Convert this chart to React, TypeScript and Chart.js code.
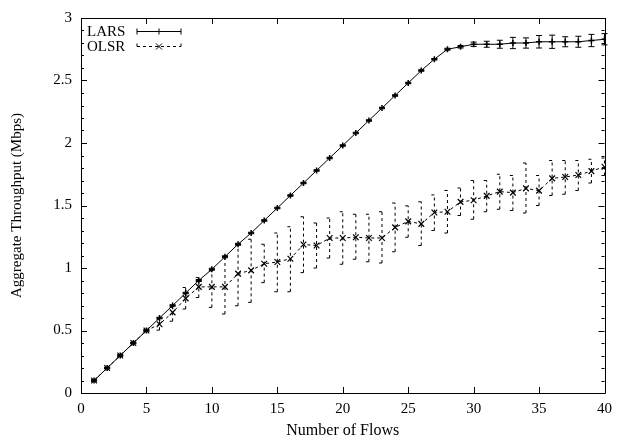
import React, { useEffect, useRef } from 'react';
import { Chart, registerables } from 'chart.js';

Chart.register(...registerables);

const flows = [1, 2, 3, 4, 5, 6, 7, 8, 9, 10, 11, 12, 13, 14, 15, 16, 17, 18, 19, 20,
  21, 22, 23, 24, 25, 26, 27, 28, 29, 30, 31, 32, 33, 34, 35, 36, 37, 38, 39, 40];

const larsMean = [0.10, 0.20, 0.30, 0.40, 0.50, 0.60, 0.70, 0.80, 0.90, 0.99,
  1.09, 1.19, 1.28, 1.38, 1.48, 1.58, 1.68, 1.78, 1.88, 1.98,
  2.08, 2.18, 2.28, 2.38, 2.48, 2.58, 2.67, 2.75, 2.77, 2.79,
  2.79, 2.79, 2.80, 2.80, 2.81, 2.81, 2.81, 2.81, 2.82, 2.83];

const larsErr = [0.006, 0.006, 0.006, 0.006, 0.006, 0.006, 0.006, 0.006, 0.008, 0.008,
  0.008, 0.008, 0.006, 0.006, 0.006, 0.006, 0.006, 0.006, 0.006, 0.006,
  0.006, 0.006, 0.006, 0.006, 0.006, 0.006, 0.006, 0.008, 0.01, 0.017,
  0.024, 0.032, 0.045, 0.041, 0.05, 0.053, 0.04, 0.044, 0.049, 0.045];

const olsrMean = [0.10, 0.20, 0.30, 0.40, 0.50, 0.55, 0.645, 0.757, 0.849, 0.849,
  0.849, 0.955, 0.981, 1.034, 1.048, 1.074, 1.188, 1.18, 1.24, 1.24,
  1.246, 1.24, 1.24, 1.325, 1.373, 1.353, 1.444, 1.45, 1.529, 1.542,
  1.577, 1.611, 1.603, 1.637, 1.619, 1.717, 1.728, 1.744, 1.775, 1.81];

const olsrLow = [0.095, 0.195, 0.295, 0.395, 0.495, 0.503, 0.574, 0.672, 0.764, 0.685,
  0.632, 0.698, 0.725, 0.883, 0.81, 0.81, 0.963, 1.0, 1.08, 1.03,
  1.07, 1.05, 1.04, 1.13, 1.246, 1.18, 1.30, 1.28, 1.42, 1.39,
  1.45, 1.47, 1.46, 1.44, 1.5, 1.58, 1.59, 1.62, 1.68, 1.74];

const olsrHigh = [0.105, 0.205, 0.305, 0.405, 0.505, 0.59, 0.685, 0.844, 0.923, 0.976,
  1.09, 1.19, 1.23, 1.19, 1.28, 1.33, 1.41, 1.36, 1.40, 1.45,
  1.43, 1.43, 1.45, 1.52, 1.497, 1.53, 1.585, 1.62, 1.64, 1.70,
  1.70, 1.75, 1.74, 1.84, 1.74, 1.86, 1.86, 1.86, 1.87, 1.88];

const xTickValues = [0, 5, 10, 15, 20, 25, 30, 35, 40];
const yTickValues = [0, 0.5, 1, 1.5, 2, 2.5, 3];
const seriesNames = ['LARS', 'OLSR'];
const xTitle = 'Number of Flows';
const yTitle = 'Aggregate Throughput (Mbps)';

const FONT = '"Liberation Serif", "DejaVu Serif", serif';
const DASH = [3, 3];

const framePlugin = {
  id: 'frameTicks',
  afterDatasetsDraw(chart: any) {
    const { ctx, chartArea: a, scales } = chart;
    const xs = scales.x;
    const ys = scales.y;
    ctx.save();
    ctx.strokeStyle = '#000';
    ctx.lineWidth = 1;
    ctx.setLineDash([]);
    ctx.beginPath();
    ctx.rect(Math.round(a.left) + 0.5, Math.round(a.top) + 0.5,
      Math.round(a.right - a.left), Math.round(a.bottom - a.top));
    ctx.stroke();
    ctx.beginPath();
    for (const v of xTickValues) {
      const px = Math.round(xs.getPixelForValue(v)) + 0.5;
      ctx.moveTo(px, a.bottom);
      ctx.lineTo(px, a.bottom - 6);
      ctx.moveTo(px, a.top);
      ctx.lineTo(px, a.top + 6);
    }
    for (let i = 0; i <= 30; i++) {
      const v = i / 10;
      const major = i % 5 === 0;
      const len = major ? 6 : 3;
      const py = Math.round(ys.getPixelForValue(v)) + 0.5;
      ctx.moveTo(a.left, py);
      ctx.lineTo(a.left + len, py);
      ctx.moveTo(a.right, py);
      ctx.lineTo(a.right - len, py);
    }
    ctx.stroke();
    ctx.restore();
  },
};

function drawBar(ctx: any, x: number, y1: number, y2: number, cap: number) {
  ctx.beginPath();
  ctx.moveTo(x, y1);
  ctx.lineTo(x, y2);
  ctx.moveTo(x - cap, y1);
  ctx.lineTo(x + cap, y1);
  ctx.moveTo(x - cap, y2);
  ctx.lineTo(x + cap, y2);
  ctx.stroke();
}

const errorBarPlugin = {
  id: 'errorBars',
  afterDatasetsDraw(chart: any) {
    const { ctx, scales } = chart;
    const xs = scales.x;
    const ys = scales.y;
    ctx.save();
    ctx.strokeStyle = '#000';
    ctx.lineWidth = 1;
    ctx.setLineDash([]);
    flows.forEach((f, i) => {
      const px = xs.getPixelForValue(f);
      drawBar(ctx, px, ys.getPixelForValue(larsMean[i] - larsErr[i]),
        ys.getPixelForValue(larsMean[i] + larsErr[i]), 3);
    });
    ctx.setLineDash(DASH);
    flows.forEach((f, i) => {
      const px = xs.getPixelForValue(f);
      drawBar(ctx, px, ys.getPixelForValue(olsrLow[i]), ys.getPixelForValue(olsrHigh[i]), 3);
    });
    ctx.restore();
  },
};

const legendPlugin = {
  id: 'gpLegend',
  afterDraw(chart: any) {
    const { ctx, chartArea: a } = chart;
    ctx.save();
    ctx.fillStyle = '#000';
    ctx.strokeStyle = '#000';
    ctx.lineWidth = 1;
    ctx.font = `15px ${FONT}`;
    ctx.textBaseline = 'middle';
    ctx.textAlign = 'left';
    const rows = [a.top + 13, a.top + 28];
    const x1 = a.left + 56;
    const x2 = a.left + 100;
    const xm = (x1 + x2) / 2;
    seriesNames.forEach((name, i) => {
      const y = Math.round(rows[i]) + 0.5;
      ctx.fillText(name, a.left + 6, y + 1);
      ctx.setLineDash(i === 0 ? [] : DASH);
      ctx.beginPath();
      ctx.moveTo(x1, y);
      ctx.lineTo(x2, y);
      ctx.moveTo(x1, y - 3);
      ctx.lineTo(x1, y + 3);
      ctx.moveTo(x2, y - 3);
      ctx.lineTo(x2, y + 3);
      ctx.stroke();
      ctx.setLineDash([]);
      ctx.beginPath();
      if (i === 0) {
        ctx.moveTo(xm - 3, y);
        ctx.lineTo(xm + 3, y);
        ctx.moveTo(xm, y - 3);
        ctx.lineTo(xm, y + 3);
      } else {
        ctx.moveTo(xm - 3, y - 3);
        ctx.lineTo(xm + 3, y + 3);
        ctx.moveTo(xm - 3, y + 3);
        ctx.lineTo(xm + 3, y - 3);
      }
      ctx.stroke();
    });
    ctx.restore();
  },
};

export default function App() {
  const canvasRef = useRef<HTMLCanvasElement | null>(null);

  useEffect(() => {
    document.body.style.margin = '0';
    const canvas = canvasRef.current;
    if (!canvas) return;
    const chart = new Chart(canvas, {
      type: 'line',
      data: {
        datasets: [
          {
            label: seriesNames[0],
            data: flows.map((f, i) => ({ x: f, y: larsMean[i] })),
            borderColor: '#000',
            backgroundColor: '#000',
            borderWidth: 1,
            pointStyle: 'cross',
            pointRadius: 3,
            pointBorderWidth: 1.5,
            tension: 0,
          },
          {
            label: seriesNames[1],
            data: flows.map((f, i) => ({ x: f, y: olsrMean[i] })),
            borderColor: '#000',
            backgroundColor: '#000',
            borderWidth: 1,
            borderDash: DASH,
            pointStyle: 'crossRot',
            pointRadius: 4,
            pointBorderWidth: 1.2,
            tension: 0,
          },
        ],
      },
      options: {
        animation: false,
        responsive: false,
        maintainAspectRatio: false,
        events: [],
        layout: { padding: { top: 15, right: 11, left: 0, bottom: 0 } },
        plugins: {
          legend: { display: false },
          tooltip: { enabled: false },
        },
        scales: {
          x: {
            type: 'linear',
            min: 0,
            max: 40,
            grid: { display: false, drawTicks: false },
            border: { display: true, color: '#000', width: 1 },
            afterBuildTicks: (s: any) => {
              s.ticks = xTickValues.map((v) => ({ value: v }));
            },
            ticks: {
              color: '#000',
              font: { family: FONT, size: 15 },
              padding: 7,
              maxRotation: 0,
              autoSkip: false,
              callback: (v: any) => String(v),
            },
            title: {
              display: true,
              text: xTitle,
              color: '#000',
              font: { family: FONT, size: 16 },
              padding: { top: 0, bottom: 1 },
            },
            afterFit: (s: any) => {
              s.height = 48;
            },
          },
          y: {
            type: 'linear',
            min: 0,
            max: 3,
            grid: { display: false, drawTicks: false },
            border: { display: true, color: '#000', width: 1 },
            afterBuildTicks: (s: any) => {
              s.ticks = yTickValues.map((v) => ({ value: v }));
            },
            ticks: {
              color: '#000',
              font: { family: FONT, size: 15 },
              padding: 9,
              autoSkip: false,
              callback: (v: any) => String(v),
            },
            title: {
              display: true,
              text: yTitle,
              color: '#000',
              font: { family: FONT, size: 15 },
              padding: { top: 8, bottom: 0 },
            },
            afterFit: (s: any) => {
              s.width = 81;
            },
          },
        },
      },
      plugins: [errorBarPlugin, framePlugin, legendPlugin],
    });
    return () => chart.destroy();
  }, []);

  return (
    <div style={{ position: 'absolute', left: 0, top: 0, width: 619, height: 441, background: '#fff' }}>
      <canvas ref={canvasRef} width={619} height={441} style={{ width: 619, height: 441 }} />
    </div>
  );
}
